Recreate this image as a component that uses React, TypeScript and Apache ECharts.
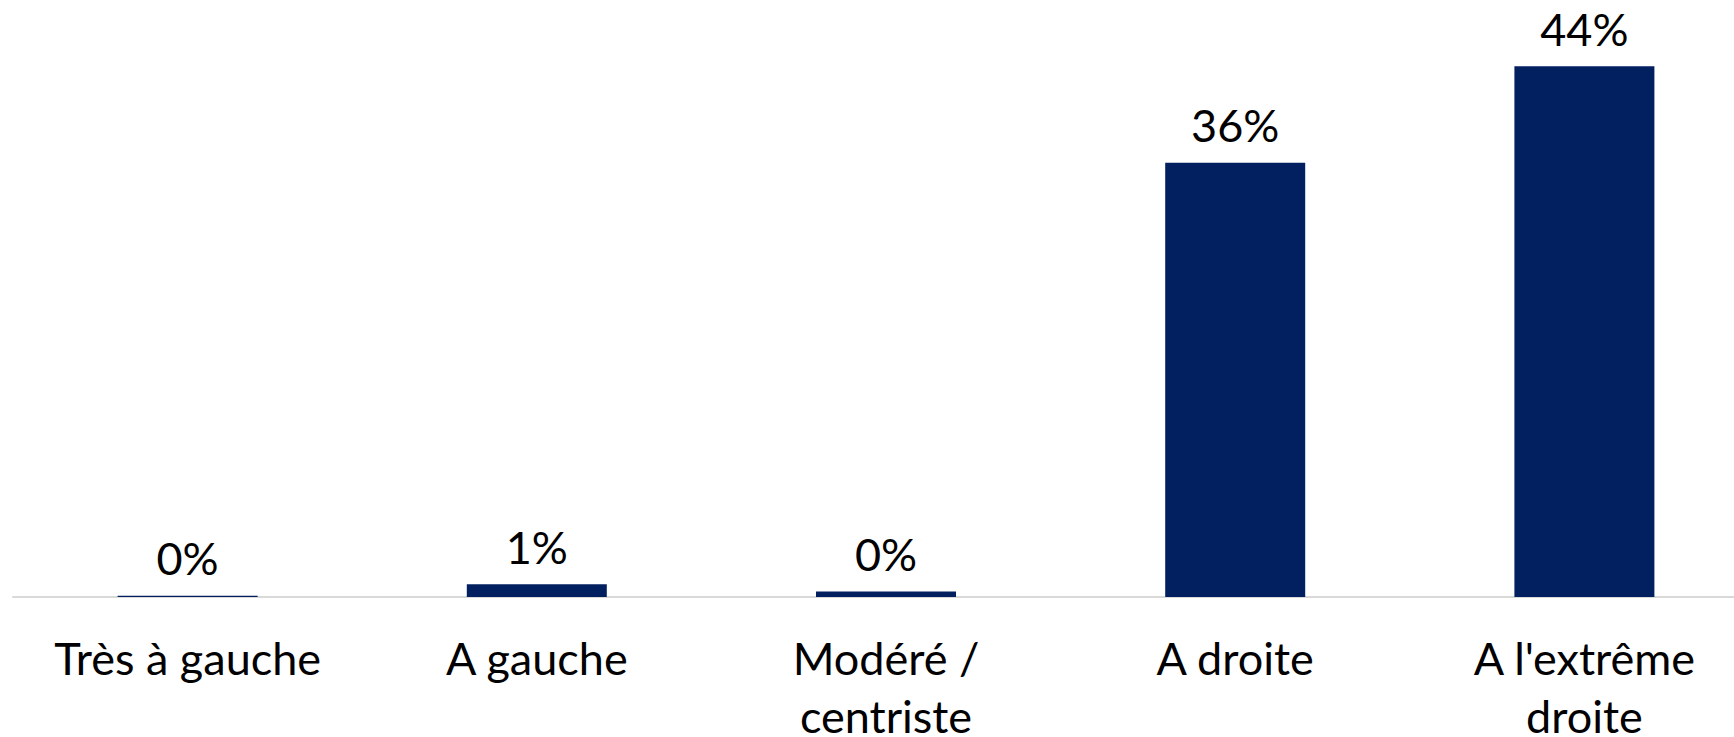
import React, { useEffect, useRef } from "react";
import * as echarts from "echarts";

const categories = ["Très à gauche", "A gauche", "Modéré /\ncentriste", "A droite", "A l'extrême\ndroite"];
const values = [0.1, 1.05, 0.45, 36, 44];
const labels = ["0%", "1%", "0%", "36%", "44%"];

export default function App() {
  const ref = useRef<HTMLDivElement>(null);
  useEffect(() => {
    if (!ref.current) return;
    const chart = echarts.init(ref.current, null, { renderer: "svg" });
    chart.setOption({
      animation: false,
      grid: {
        left: 13,
        top: 0,
        bottom: 140,
        width: 1746,
        containLabel: false,
        outerBoundsMode: "none",
      },
      xAxis: {
        type: "category",
        data: categories,
        axisLine: { show: true, lineStyle: { color: "#D9D9D9", width: 2 } },
        axisTick: { show: false },
        axisLabel: {
          color: "#000",
          fontFamily: "Lato",
          fontSize: 45,
          lineHeight: 58,
          margin: 32,
          interval: 0,
        },
      },
      yAxis: {
        type: "value",
        min: 0,
        max: 49.5,
        show: false,
        splitLine: { show: false },
      },
      series: [
        {
          type: "bar",
          data: values,
          barWidth: 140,
          itemStyle: { color: "#022060" },
          label: {
            show: true,
            position: "top",
            distance: 15,
            color: "#000",
            fontFamily: "Lato",
            fontSize: 45,
            formatter: (p: any) => labels[p.dataIndex],
          },
        },
      ],
    });
    return () => chart.dispose();
  }, []);
  return (
    <div
      style={{ position: "fixed", left: 0, top: 0, width: 1734, height: 737, overflow: "hidden", background: "#fff" }}
    >
      <div ref={ref} style={{ width: 1734, height: 737, overflow: "hidden" }} />
    </div>
  );
}
